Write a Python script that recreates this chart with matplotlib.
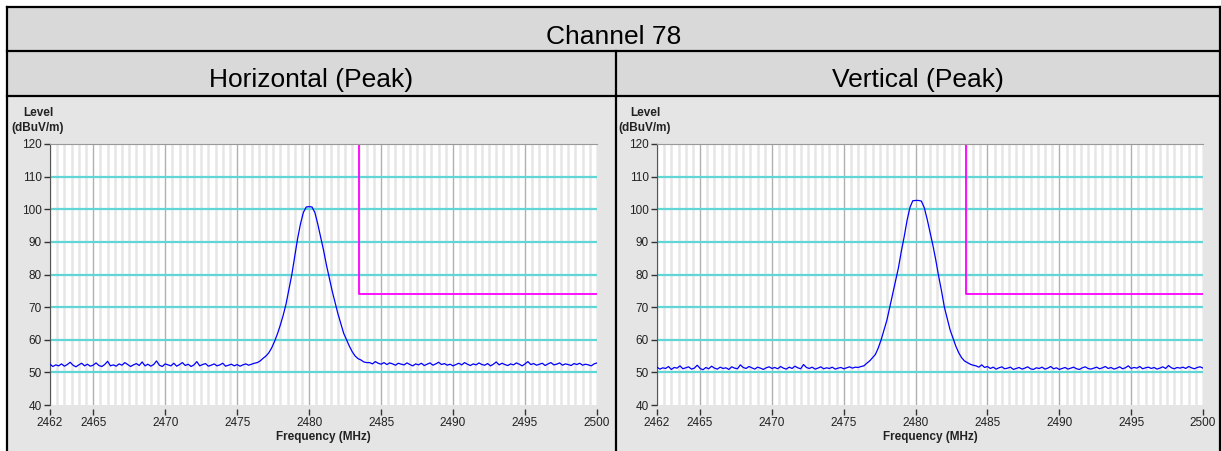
import matplotlib
matplotlib.use('Agg')
import matplotlib.pyplot as plt
import numpy as np
from matplotlib.patches import Rectangle
from matplotlib.lines import Line2D
from matplotlib.ticker import MultipleLocator

plt.rcParams['font.family'] = ['Liberation Sans', 'DejaVu Sans']

# ---------------- data ----------------
title_main = "Channel 78"
panel_titles = ["Horizontal (Peak)", "Vertical (Peak)"]
freq_start, freq_stop = 2462.0, 2500.0
x_tick_values = [2462, 2465, 2470, 2475, 2480, 2485, 2490, 2495, 2500]
y_tick_values = [40, 50, 60, 70, 80, 90, 100, 110, 120]
limit_freq = 2483.5
limit_level = 74

h_pre = [52.5, 51.8, 52.3, 52.0, 52.6, 51.9, 52.4, 53.1, 52.2, 51.7,
         52.3, 52.8, 52.0, 52.5, 51.9, 52.2, 52.9, 52.1, 51.8, 52.4,
         53.4, 52.0, 52.3, 51.9, 52.6, 52.2, 53.0, 52.4, 51.8, 52.3,
         52.7, 52.1, 53.2, 52.0, 52.5, 51.9, 52.4, 53.5, 52.2, 51.8,
         52.6, 52.3, 52.0, 52.8, 51.9, 52.4, 53.0, 52.1, 52.5, 51.8,
         52.3, 53.3, 52.0, 52.4, 52.7, 51.9, 52.2, 52.6, 52.0, 52.3,
         52.8, 51.9, 52.2, 52.5, 52.0, 52.4, 51.9, 52.3, 52.6, 52.2,
         52.5, 52.8]
h_peak = [53.0, 53.5, 54.3, 55.0, 56.0, 57.5, 59.5, 61.8, 64.5, 67.5,
          71.0, 75.5, 80.0, 85.5, 91.0, 95.5, 99.0, 100.7, 100.8, 100.7,
          99.0, 95.5, 91.5, 87.5, 83.0, 79.0, 75.0, 71.5, 68.0, 65.0,
          62.0, 60.0, 58.0, 56.3, 55.0, 54.2, 53.8, 53.2, 53.0]
h_post = [53.0, 52.6, 53.3, 52.8, 52.5, 53.0, 52.4, 52.9, 52.6, 52.2,
          52.8, 52.5, 52.3, 52.9, 52.4, 52.0, 52.6, 52.3, 52.8, 52.1,
          52.5, 52.9, 52.2, 52.6, 53.1, 52.4, 52.7, 52.2, 52.5, 52.0,
          52.4, 52.8, 52.3, 53.0, 52.5, 52.1, 52.6, 52.3, 52.9, 52.4,
          52.2, 52.7, 52.0, 52.5, 53.2, 52.3, 52.8, 52.4, 52.1, 52.6,
          52.3, 52.9, 52.5, 52.0, 52.6, 53.3, 52.4, 52.7, 52.2, 52.5,
          52.8, 52.1, 52.6, 53.0, 52.3, 52.5, 52.9, 52.2, 52.6, 52.4,
          52.1, 52.7, 52.4, 52.8, 52.2, 52.5, 52.3, 52.0, 52.6, 52.9]

v_pre = [51.6, 51.0, 51.4, 51.2, 51.8, 50.9, 51.5, 51.3, 52.0, 51.1,
         51.4, 51.7, 51.0, 51.3, 52.2, 51.2, 50.8, 51.5, 51.1, 51.9,
         51.3, 51.0, 51.6, 51.2, 51.4, 50.9, 51.7, 51.3, 51.1, 52.3,
         51.5, 51.2, 51.8, 51.4, 51.0, 51.6, 51.3, 50.9, 51.4, 51.7,
         51.2, 51.5, 51.1, 51.8, 51.3, 51.0, 51.6, 51.2, 51.9, 51.4,
         51.1, 52.4, 51.5, 51.2, 51.6, 51.0, 51.3, 51.7, 51.1, 51.4,
         51.2, 51.6, 51.0, 51.3, 51.5, 51.1, 51.4, 51.7, 51.3, 51.6,
         51.5, 51.8]
v_peak = [52.0, 52.8, 53.5, 54.5, 55.5, 57.5, 60.0, 63.0, 66.0, 70.0,
          74.0, 78.0, 82.0, 87.0, 91.5, 96.5, 100.5, 102.6, 102.7, 102.7,
          102.5, 100.5, 97.0, 93.0, 89.0, 84.5, 79.5, 75.0, 70.0, 66.5,
          63.0, 60.5, 58.0, 56.0, 54.5, 53.5, 53.0, 52.5, 52.2]
v_post = [52.0, 51.6, 52.3, 51.5, 51.8, 51.2, 51.6, 51.0, 51.4, 51.7,
          51.1, 51.3, 51.6, 50.9, 51.2, 51.5, 51.0, 51.3, 51.7, 51.1,
          50.9, 51.4, 51.2, 51.6, 51.0, 51.3, 51.8, 51.1, 51.4, 50.9,
          51.2, 51.5, 51.0, 51.3, 51.6, 51.1, 50.9, 51.4, 51.7, 51.2,
          51.0, 51.3, 51.6, 51.1, 51.4, 51.8, 51.2, 51.5, 51.0, 51.3,
          51.7, 51.1, 51.4, 52.0, 51.2, 51.5, 51.3, 51.8, 51.1, 51.4,
          51.6, 51.2, 51.5, 51.0, 51.3, 51.7, 51.2, 52.1, 51.4, 51.1,
          51.5, 51.3, 51.6, 51.2, 51.8, 51.4, 51.1, 51.5, 51.7, 51.3]

h_level = h_pre + h_peak + h_post
v_level = v_pre + v_peak + v_post

# ---------------- layout ----------------
W, H = 1221, 451
fig = plt.figure(figsize=(W / 100, H / 100), dpi=100)
fig.patch.set_facecolor('white')


def fx(px):
    return px / W


def fy(py):
    return 1 - py / H


def frect(x0, y0, x1, y1, color):
    fig.add_artist(Rectangle((fx(x0), fy(y1)), fx(x1) - fx(x0), fy(y0) - fy(y1),
                             transform=fig.transFigure, facecolor=color,
                             edgecolor='none', zorder=0))


def fline(x0, y0, x1, y1):
    fig.add_artist(Line2D([fx(x0), fx(x1)], [fy(y0), fy(y1)],
                          transform=fig.transFigure, color='black', lw=1.6,
                          zorder=5))


top, row1, row2 = 7, 51, 96
left, mid, right = 7, 616, 1220
frect(left, top, right, row2, '#d9d9d9')
frect(left, row2, right, H, '#e5e5e5')
fline(left, top, right, top)
fline(left, row1, right, row1)
fline(left, row2, right, row2)
fline(left, top, left, H)
fline(right, top, right, H)
fline(mid, row1, mid, H)

fig.text(fx((left + right) / 2), fy(44), title_main, ha='center', va='baseline',
         fontsize=19, color='black')
fig.text(fx((left + mid) / 2), fy(87), panel_titles[0], ha='center', va='baseline',
         fontsize=19, color='black')
fig.text(fx((mid + right) / 2), fy(87), panel_titles[1], ha='center', va='baseline',
         fontsize=19, color='black')

axes_px = [(50, 597), (657, 1203)]
ax_top, ax_bot = 144, 405
series = [h_level, v_level]

for (x0, x1), level in zip(axes_px, series):
    ax = fig.add_axes([fx(x0), fy(ax_bot), fx(x1) - fx(x0), fy(ax_top) - fy(ax_bot)])
    ax.set_facecolor('white')
    freq = np.linspace(freq_start, freq_stop, len(level))
    ax.set_xlim(freq_start, freq_stop)
    ax.set_ylim(y_tick_values[0], y_tick_values[-1])

    ax.set_xticks(x_tick_values)
    ax.xaxis.set_minor_locator(MultipleLocator(0.5))
    ax.set_yticks(y_tick_values)
    ax.tick_params(axis='x', which='major', direction='out', length=4, width=1,
                   color='#333333', labelsize=8.5, labelcolor='#222222', pad=2)
    ax.tick_params(axis='x', which='minor', length=0)
    ax.tick_params(axis='y', which='major', direction='out', length=4, width=1,
                   color='#333333', labelsize=8.5, labelcolor='#222222', pad=2)

    ax.grid(which='minor', axis='x', color='#e6e6e6', lw=1.8, zorder=0)
    ax.grid(which='major', axis='x', color='#b0b0b0', lw=1, zorder=0.5)
    for yv in y_tick_values[1:-1]:
        ax.axhline(yv, color='#62d6d6', lw=1.6, zorder=1)
    ax.set_axisbelow(True)

    ax.plot([limit_freq, limit_freq, freq_stop],
            [y_tick_values[-1], limit_level, limit_level],
            color='#ff00ff', lw=1.3, zorder=2)
    ax.plot(freq, level, color='#0000ff', lw=0.9, zorder=3)

    ax.spines['right'].set_visible(False)
    ax.spines['bottom'].set_position(('outward', 3))
    ax.spines['bottom'].set_visible(False)
    ax.spines['left'].set_color('#555555')
    ax.spines['top'].set_color('#999999')

    ax.text(-0.022, 1.119, "Level", transform=ax.transAxes, ha='center',
            va='center', fontsize=8.5, fontweight='bold', color='#222222')
    ax.text(-0.022, 1.061, "(dBuV/m)", transform=ax.transAxes, ha='center',
            va='center', fontsize=8.5, fontweight='bold', color='#222222')
    ax.set_xlabel("Frequency (MHz)", fontsize=8.5, fontweight='bold',
                  color='#222222', labelpad=1)

fig.savefig('out.png', dpi=100)
